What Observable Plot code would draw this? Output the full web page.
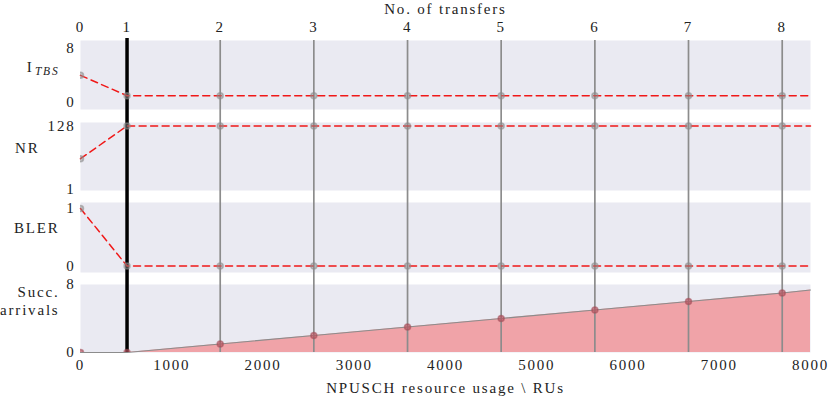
<!DOCTYPE html>
<html><head><meta charset="utf-8">
<script src="https://cdn.jsdelivr.net/npm/d3@7"></script>
<script src="https://cdn.jsdelivr.net/npm/@observablehq/plot@0.6"></script>
<style>
html,body{margin:0;padding:0;background:#fff;}
#chart{position:relative;width:830px;height:398px;}
#chart svg{position:absolute;left:0;top:0;}
</style></head><body><div id="chart"></div>
<script>
// ---- data ----
const transferNo = [0, 1, 2, 3, 4, 5, 6, 7, 8];
const transferRU = [0, 510, 1531, 2557, 3584, 4610, 5637, 6663, 7690];
const highlightTransfer = 1;
const itbs = [4, 1, 1, 1, 1, 1, 1, 1, 1];
const nr = [62, 128, 128, 128, 128, 128, 128, 128, 128];
const bler = [1, 0, 0, 0, 0, 0, 0, 0, 0];
const succArrivals = [0, 0, 1, 2, 3, 4, 5, 6, 7];
const axisEndRU = 8000;
const succAtEnd = 7.35;
const xTicks = [0, 1000, 2000, 3000, 4000, 5000, 6000, 7000, 8000];
const itbsTicks = [0, 8];
const nrTicks = [1, 128];
const blerTicks = [0, 1];
const succTicks = [0, 8];

// ---- layout ----
const W = 830, H = 398, ML = 80, MR = 20;
const FONT = "'Liberation Serif', 'Times New Roman', serif";
const BG = "#eaeaf2";
const RULE = "#8c8c8c";
const labelOf = new Map(transferRU.map((p, i) => [p, transferNo[i]]));
const grayRU = transferRU.filter((_, i) => transferNo[i] > highlightTransfer);
const blackRU = transferRU.filter((_, i) => transferNo[i] === highlightTransfer);
const intFmt = d => String(d);

function series(vals, endVal) {
  const s = transferRU.map((x, i) => ({x, y: vals[i]}));
  s.push({x: axisEndRU, y: endVal});
  return s;
}
function pts(vals) { return transferRU.map((x, i) => ({x, y: vals[i]})); }

const panels = [
  {name: "itbs", top: 40, bottom: 109, domain: [-1.03, 9.13], ticks: itbsTicks, vals: itbs, gap: 13},
  {name: "nr", top: 122, bottom: 190, domain: [-2, 135], ticks: nrTicks, vals: nr, gap: 12},
  {name: "bler", top: 202, bottom: 272, domain: [-0.113, 1.104], ticks: blerTicks, vals: bler, gap: 12},
  {name: "succ", top: 284, bottom: 352, domain: [0, 8], ticks: succTicks, vals: succArrivals, gap: 0}
];

const chart = document.getElementById("chart");

for (const p of panels) {
  const marks = [Plot.frame({fill: BG, stroke: null})];
  const isSucc = p.name === "succ";
  if (isSucc) {
    const s = series(succArrivals, succAtEnd);
    marks.push(Plot.areaY(s, {x: "x", y: "y", fill: "#f0a3a8"}));
    marks.push(Plot.line(s, {x: "x", y: "y", stroke: "#8c8c8c", strokeWidth: 1.2}));
  }
  marks.push(Plot.ruleX(grayRU, {stroke: RULE, strokeWidth: 1.7, insetBottom: -p.gap}));
  marks.push(Plot.ruleX(blackRU, {stroke: "#000", strokeWidth: 3.5, insetBottom: -p.gap, insetTop: p.name === "itbs" ? -2 : 0}));
  if (!isSucc) {
    const last = p.vals[p.vals.length - 1];
    marks.push(Plot.line(series(p.vals, last), {x: "x", y: "y", stroke: "#f01818", strokeWidth: 1.5, strokeDasharray: "7,4.5"}));
    marks.push(Plot.dot(pts(p.vals), {x: "x", y: "y", r: 3, fill: "#8c8c8c", fillOpacity: 0.5, stroke: "#8c8c8c", strokeOpacity: 0.55, clip: true}));
  } else {
    marks.push(Plot.dot(pts(p.vals), {x: "x", y: "y", r: 3, fill: "#b8505c", fillOpacity: 0.65, stroke: "#a04a55", strokeOpacity: 0.55, clip: true}));
  }
  marks.push(Plot.axisY(p.ticks, {tickSize: 0, tickPadding: 5, label: null, fontSize: 15, tickFormat: intFmt}));

  // y labels
  if (p.name === "itbs") {
    marks.push(Plot.text(["I"], {frameAnchor: "left", dx: -47, dy: -8, textAnchor: "end", lineAnchor: "middle", fontSize: 15}));
    marks.push(Plot.text(["TBS"], {frameAnchor: "left", dx: -21, dy: -4, textAnchor: "end", lineAnchor: "middle", fontSize: 11.5, fontStyle: "italic", letterSpacing: "1px"}));
    marks.push(Plot.axisX(transferRU, {anchor: "top", tickSize: 0, tickPadding: 9, label: null, fontSize: 15, tickFormat: d => labelOf.get(d)}));
    marks.push(Plot.text(["No. of transfers"], {frameAnchor: "top", dy: -31, lineAnchor: "middle", fontSize: 15}));
  } else if (p.name === "nr") {
    marks.push(Plot.text(["NR"], {frameAnchor: "left", dx: -41, dy: -8.5, textAnchor: "end", lineAnchor: "middle", fontSize: 15}));
  } else if (p.name === "bler") {
    marks.push(Plot.text(["BLER"], {frameAnchor: "left", dx: -21, dy: -9, textAnchor: "end", lineAnchor: "middle", fontSize: 15}));
  } else {
    marks.push(Plot.text(["Succ."], {frameAnchor: "left", dx: -21, dy: -26, textAnchor: "end", lineAnchor: "middle", fontSize: 15}));
    marks.push(Plot.text(["arrivals"], {frameAnchor: "left", dx: -21, dy: -8, textAnchor: "end", lineAnchor: "middle", fontSize: 15, letterSpacing: "1.6px"}));
    marks.push(Plot.axisX(xTicks, {anchor: "bottom", tickSize: 0, tickPadding: 7, label: null, fontSize: 15, tickFormat: intFmt}));
    marks.push(Plot.text(["NPUSCH resource usage \\ RUs"], {frameAnchor: "bottom", dy: 36, lineAnchor: "middle", fontSize: 15, letterSpacing: "2.3px"}));
  }

  const svg = Plot.plot({
    width: W, height: H,
    marginLeft: ML, marginRight: MR, marginTop: p.top, marginBottom: H - p.bottom,
    x: {domain: [0, axisEndRU], axis: null},
    y: {domain: p.domain, axis: null},
    style: {fontFamily: FONT, fontSize: "15px", letterSpacing: "1.8px", background: "transparent", color: "#222", overflow: "visible"},
    marks
  });
  chart.appendChild(svg);
}
</script>
</body></html>
